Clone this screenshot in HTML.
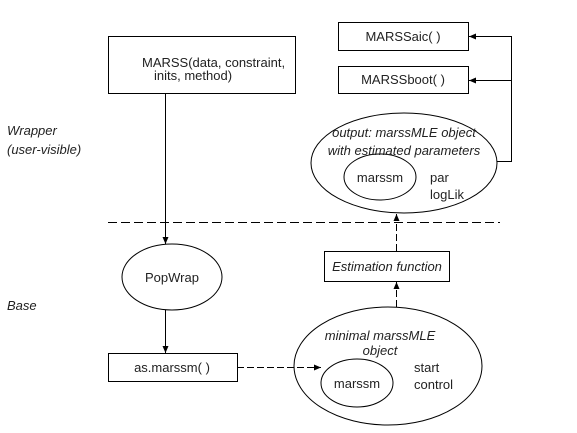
<!DOCTYPE html>
<html><head><meta charset="utf-8"><style>
html,body{margin:0;padding:0;background:#fff;}
svg{display:block;}
text{font-family:"Liberation Sans",sans-serif;font-size:13px;fill:#222;}
</style></head><body>
<svg width="577" height="433" viewBox="0 0 577 433" xmlns="http://www.w3.org/2000/svg">
<defs>
<marker id="a" markerWidth="8" markerHeight="8" refX="7" refY="4" orient="auto" markerUnits="userSpaceOnUse">
<path d="M0,1 L7,4 L0,7 Z" fill="#000"/></marker>
</defs>
<g fill="none" stroke="#000" stroke-width="1">
<rect x="108.5" y="36.5" width="187" height="57"/>
<rect x="338.5" y="22.5" width="130" height="28"/>
<rect x="338.5" y="66.5" width="130" height="27"/>
<ellipse cx="404" cy="163" rx="93" ry="50"/>
<ellipse cx="380" cy="177" rx="36" ry="23"/>
<ellipse cx="172" cy="277" rx="50" ry="33"/>
<rect x="108.5" y="353.5" width="129" height="28"/>
<rect x="324.5" y="251.5" width="125" height="30"/>
<ellipse cx="388" cy="366" rx="94" ry="59"/>
<ellipse cx="357" cy="383" rx="36" ry="24"/>
<line x1="108" y1="222.5" x2="500" y2="222.5" stroke-dasharray="9,4"/>
<line x1="165.5" y1="93" x2="165.5" y2="244" marker-end="url(#a)"/>
<line x1="165.5" y1="310" x2="165.5" y2="353" marker-end="url(#a)"/>
<polyline points="497,161.5 511.5,161.5 511.5,36.5 469,36.5" marker-end="url(#a)"/>
<line x1="511.5" y1="80.5" x2="469" y2="80.5" marker-end="url(#a)"/>
<line x1="237" y1="367.5" x2="321" y2="367.5" stroke-dasharray="7,3" marker-end="url(#a)"/>
<line x1="396.5" y1="307" x2="396.5" y2="282" stroke-dasharray="7,3" marker-end="url(#a)"/>
<line x1="396.5" y1="251" x2="396.5" y2="214" stroke-dasharray="7,3" marker-end="url(#a)"/>
</g>
<text x="142" y="67">MARSS(data, constraint,</text>
<text x="154" y="80">inits, method)</text>
<text x="403" y="41" text-anchor="middle">MARSSaic( )</text>
<text x="403" y="84" text-anchor="middle">MARSSboot( )</text>
<text x="404" y="137" text-anchor="middle" font-style="italic">output: marssMLE object</text>
<text x="404" y="155" text-anchor="middle" font-style="italic">with estimated parameters</text>
<text x="380" y="182" text-anchor="middle">marssm</text>
<text x="430" y="182">par</text>
<text x="430" y="199">logLik</text>
<text x="7" y="135" font-style="italic">Wrapper</text>
<text x="7" y="154" font-style="italic">(user-visible)</text>
<text x="7" y="310" font-style="italic">Base</text>
<text x="172" y="282" text-anchor="middle">PopWrap</text>
<text x="172" y="372" text-anchor="middle">as.marssm( )</text>
<text x="387" y="271" text-anchor="middle" font-style="italic">Estimation function</text>
<text x="380" y="340" text-anchor="middle" font-style="italic">minimal marssMLE</text>
<text x="380" y="355" text-anchor="middle" font-style="italic">object</text>
<text x="357" y="388" text-anchor="middle">marssm</text>
<text x="414" y="372">start</text>
<text x="414" y="389">control</text>
</svg>
</body></html>
